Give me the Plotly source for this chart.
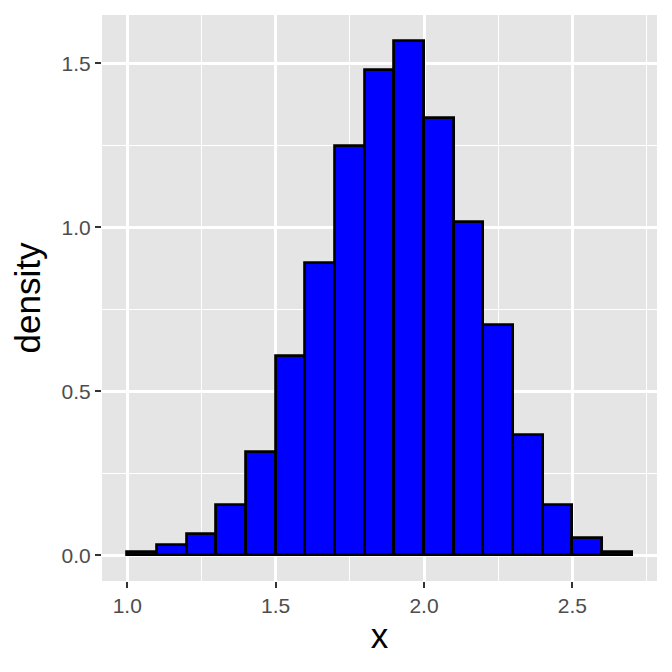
import plotly.graph_objects as go

# histogram bins (left edges) and densities, bin width 0.1
bin_left = [1.0, 1.1, 1.2, 1.3, 1.4, 1.5, 1.6, 1.7, 1.8, 1.9,
            2.0, 2.1, 2.2, 2.3, 2.4, 2.5, 2.6]
density = [0.009, 0.030, 0.066, 0.154, 0.315, 0.609, 0.891, 1.247, 1.480, 1.569,
           1.334, 1.015, 0.703, 0.368, 0.152, 0.052, 0.011]
bin_width = 0.1
x_ticks = [1.0, 1.5, 2.0, 2.5]
x_labels = ["1.0", "1.5", "2.0", "2.5"]
y_ticks = [0.0, 0.5, 1.0, 1.5]
y_labels = ["0.0", "0.5", "1.0", "1.5"]

fig = go.Figure()
fig.add_trace(go.Bar(
    x=[b + bin_width / 2 for b in bin_left], y=density, width=bin_width,
    marker=dict(color="blue", line=dict(color="black", width=2.8)),
    showlegend=False,
))

axis_common = dict(
    showgrid=True, gridcolor="white", gridwidth=2.6, zeroline=False, showline=False,
    ticks="outside", ticklen=6, tickwidth=2.4, tickcolor="#333333",
    tickfont=dict(size=21, color="#4D4D4D"),
    minor=dict(showgrid=True, gridcolor="white", gridwidth=1.3, dtick=0.25, tick0=0, ticks=""),
)

# the page puts the plot 8px in from the corner, so margins are shifted to match
fig.update_layout(
    width=672, height=672,
    margin=dict(l=94, r=23, t=7, b=99),
    paper_bgcolor="white", plot_bgcolor="#E5E5E5",
    font=dict(family="Liberation Sans, Arial, sans-serif", color="black"),
    bargap=0,
    xaxis=dict(axis_common, range=[0.915, 2.785], tickvals=x_ticks, ticktext=x_labels,
               title=dict(text="x", font=dict(size=35), standoff=7)),
    yaxis=dict(axis_common, range=[-0.0785, 1.6475], tickvals=y_ticks, ticktext=y_labels,
               title=dict(text="density", font=dict(size=35), standoff=11)),
)

fig.write_html("out.html")
